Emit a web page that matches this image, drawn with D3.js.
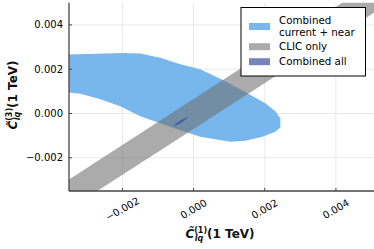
<!DOCTYPE html>
<html><head><meta charset="utf-8">
<script src="https://cdn.jsdelivr.net/npm/d3@7"></script>
<style>body{margin:0;background:#fff}svg{display:block;font-family:"DejaVu Sans",sans-serif}</style>
</head><body><svg id="c" width="374" height="249"></svg>
<script>
// Data
const xTicks = [-0.002, 0.000, 0.002, 0.004];
const yTicks = [-0.002, 0.000, 0.002, 0.004];
const xTickLabels = ["\u22120.002", "0.000", "0.002", "0.004"];
const yTickLabels = ["\u22120.002", "0.000", "0.002", "0.004"];
// Combined current + near region outline [C1, C3]
const regionNearC1 = [-0.0037,-0.003497,-0.002719,-0.001977,-0.001499,-0.000937,-0.000374,0.00019,0.000836,0.001511,0.002017,0.002298,0.002439,0.002439,0.002298,0.001932,0.001454,0.001032,0.00061,0.00019,-0.000374,-0.000937,-0.001499,-0.002062,-0.002619,-0.003176,-0.003497,-0.0037];
const regionNearC3 = [0.002664,0.002664,0.0027,0.002736,0.002709,0.002519,0.002226,0.002,0.001503,0.000916,0.000465,0.000104,-0.000212,-0.000619,-0.000822,-0.001047,-0.001228,-0.001273,-0.00116,-0.001047,-0.000754,-0.000438,-0.000122,0.00033,0.000646,0.000894,0.000948,0.000948];
// CLIC only band corners
const bandC1 = [-0.0037, 0.0056, 0.0056, -0.0037];
const bandC3 = [-0.00319, 0.00648, 0.00510, -0.00453];
// Combined all ellipse outline
const allC1 = [-0.000575,-0.000480,-0.000330,-0.000190,-0.000170,-0.000268,-0.000418,-0.000558];
const allC3 = [-0.000590,-0.000520,-0.000390,-0.000220,-0.000170,-0.000240,-0.000370,-0.000550];
const legendLabels = [["Combined","current + near"],["CLIC only"],["Combined all"]];
const legendColors = ["#78b7ee","#ababab","#7885bb"];

const svg = d3.select("#c");
const L=69, R=371.5, T=2.8, B=191;
const x = d3.scaleLinear().domain([-0.0035,0.005]).range([L,R]);
const y = d3.scaleLinear().domain([-0.0035,0.005]).range([B,T]);

svg.append("defs").append("clipPath").attr("id","pc").append("rect")
  .attr("x",L).attr("y",T).attr("width",R-L+3).attr("height",B-T);

// grid
const g = svg.append("g");
g.selectAll(".vx").data(xTicks).enter().append("line")
  .attr("x1",d=>x(d)).attr("x2",d=>x(d)).attr("y1",T).attr("y2",B)
  .attr("stroke","#e8e8e8").attr("stroke-width",1);
g.selectAll(".hy").data(yTicks).enter().append("line")
  .attr("y1",d=>y(d)).attr("y2",d=>y(d)).attr("x1",L).attr("x2",R+3)
  .attr("stroke","#e8e8e8").attr("stroke-width",1);

const plot = svg.append("g").attr("clip-path","url(#pc)");
const line = d3.line().x(d=>x(d[0])).y(d=>y(d[1]));
const near = regionNearC1.map((v,i)=>[v,regionNearC3[i]]);
const band = bandC1.map((v,i)=>[v,bandC3[i]]);
const all = allC1.map((v,i)=>[v,allC3[i]]);
plot.append("path").attr("d",line(near)+"Z").attr("fill","#78b7ee");
plot.append("path").attr("d",line(band)+"Z").attr("fill","rgb(110,110,110)").attr("fill-opacity",0.58);
plot.append("path").attr("d",d3.line().curve(d3.curveCardinalClosed).x(d=>x(d[0])).y(d=>y(d[1]))(all)).attr("fill","#3652a6").attr("fill-opacity",0.9);

// axes
svg.append("line").attr("x1",L).attr("x2",L).attr("y1",T).attr("y2",B).attr("stroke","#444").attr("stroke-width",1.3);
svg.append("line").attr("x1",L).attr("x2",R+3).attr("y1",B).attr("y2",B).attr("stroke","#444").attr("stroke-width",1.3);
svg.selectAll(".xt").data(xTicks).enter().append("line")
  .attr("x1",d=>x(d)).attr("x2",d=>x(d)).attr("y1",B).attr("y2",B-3).attr("stroke","#444");
svg.selectAll(".yt").data(yTicks).enter().append("line")
  .attr("y1",d=>y(d)).attr("y2",d=>y(d)).attr("x1",L).attr("x2",L+3).attr("stroke","#444");

svg.selectAll(".xl").data(xTicks).enter().append("text")
  .attr("transform",d=>`translate(${x(d)},${209}) rotate(-30)`)
  .attr("text-anchor","middle").attr("dy","0.35em").attr("font-size",10).attr("fill","#000")
  .text((d,i)=>xTickLabels[i]);
svg.selectAll(".yl").data(yTicks).enter().append("text")
  .attr("x",63).attr("y",d=>y(d)).attr("dy","0.35em").attr("text-anchor","end")
  .attr("font-size",10).attr("fill","#000").text((d,i)=>yTickLabels[i]);

// axis labels
function label(t, n){
  t.append("tspan").attr("font-style","italic").text("C\u0303");
  t.append("tspan").attr("font-style","italic").attr("font-size",8).attr("dy",3).attr("dx",0.5).text("lq");
  t.append("tspan").attr("font-size",8).attr("dy",-8).attr("dx",-9).text("("+n+")");
  t.append("tspan").attr("dy",5).text("(1 TeV)");
}
const xl = svg.append("text").attr("x",220).attr("y",237.5).attr("text-anchor","middle").attr("font-size",12).attr("font-weight",600).attr("fill","#111");
label(xl,1);
const yl = svg.append("text").attr("transform","translate(17,95) rotate(-90)").attr("text-anchor","middle").attr("font-size",12).attr("font-weight",600).attr("fill","#111");
label(yl,3);

// legend
const lg = svg.append("g");
lg.append("rect").attr("x",241).attr("y",7.5).attr("width",124.5).attr("height",68.5).attr("fill","#fff").attr("stroke","#000").attr("stroke-width",1);
const sy = [26.5, 46.7, 61.7];
legendLabels.forEach((lab,i)=>{
  lg.append("rect").attr("x",249).attr("y",sy[i]-3.5).attr("width",21).attr("height",7).attr("fill",legendColors[i]);
  const t = lg.append("text").attr("font-size",10.3).attr("fill","#000");
  const start = sy[i] - (lab.length-1)*6;
  lab.forEach((s,j)=>t.append("tspan").attr("x",279).attr("y",start+j*12).attr("dy","0.35em").text(s));
});
</script></body></html>
